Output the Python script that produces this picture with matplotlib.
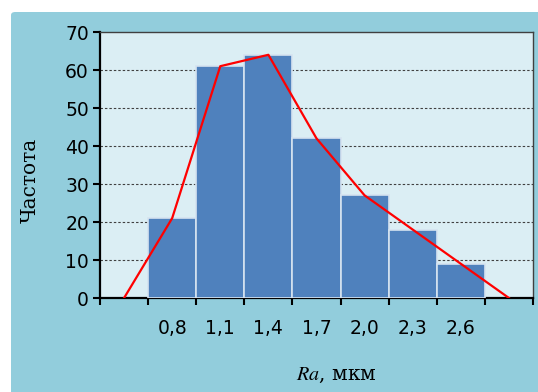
import matplotlib
matplotlib.use('Agg')
import matplotlib.pyplot as plt
from matplotlib.patches import FancyBboxPatch

# data
categories = ['', '0,8', '1,1', '1,4', '1,7', '2,0', '2,3', '2,6', '']
bar_values = [21, 61, 64, 42, 27, 18, 9]
polygon_values = [0, 21, 61, 64, 42, 27, 18, 9, 0]
y_ticks = [0, 10, 20, 30, 40, 50, 60, 70]

W, H = 538, 392
fig = plt.figure(figsize=(W / 100, H / 100), dpi=100)
fig.patch.set_facecolor('white')

# outer chart area (light blue, starts a bit inside the image)
bg = FancyBboxPatch((11 / W, -0.05), (W - 11) / W + 0.05, (H - 12) / H + 0.05,
                    boxstyle='round,pad=0,rounding_size=0.008',
                    transform=fig.transFigure, facecolor='#92CDDC',
                    edgecolor='none', zorder=-10)
fig.patches.append(bg)

ax = fig.add_axes([100 / W, (H - 298) / H, 433 / W, 266 / H])
ax.set_facecolor('#DBEEF4')

bar_x = list(range(1, len(bar_values) + 1))
ax.bar(bar_x, bar_values, width=1.0, color='#4F81BD',
       edgecolor='#D5E3F0', linewidth=1.2, zorder=3)
ax.plot(range(len(polygon_values)), polygon_values, color='#FF0000',
        linewidth=1.6, zorder=4)

ax.set_xlim(-0.5, len(categories) - 0.5)
ax.set_ylim(0, 70)

# grid lines behind bars
for y in y_ticks[1:-1]:
    ax.axhline(y, color='#404040', linestyle=(0, (2.2, 1.8)),
               linewidth=0.8, zorder=1)

# x ticks: marks on boundaries, labels on centers
ax.set_xticks([i - 0.5 for i in range(len(categories) + 1)])
ax.set_xticklabels([])
ax.set_xticks(range(len(categories)), minor=True)
ax.set_xticklabels(categories, minor=True, fontsize=13.5, family='DejaVu Sans')
ax.tick_params(axis='x', which='major', length=5, width=1.5, direction='out',
               color='black')
ax.tick_params(axis='x', which='minor', length=0, pad=15)

ax.set_yticks(y_ticks)
ax.set_yticklabels([str(v) for v in y_ticks], fontsize=13.5, family='DejaVu Sans')
ax.tick_params(axis='y', length=5, width=1.5, direction='out', pad=3,
               color='black')

for side in ['left', 'bottom']:
    ax.spines[side].set_color('black')
    ax.spines[side].set_linewidth(1.6)
for side in ['top', 'right']:
    ax.spines[side].set_color('#404040')
    ax.spines[side].set_linewidth(1.0)

plt.rcParams['mathtext.fontset'] = 'stix'
fig.text(30 / W, 1 - 180 / H, 'Частота', rotation=90, ha='center',
         va='center', fontsize=14.5, family='DejaVu Serif')
fig.text(336 / W, 1 - 375 / H, r'$Ra$, мкм', ha='center', va='center',
         fontsize=14.5, family='DejaVu Serif')

fig.savefig('out.png', dpi=100)
